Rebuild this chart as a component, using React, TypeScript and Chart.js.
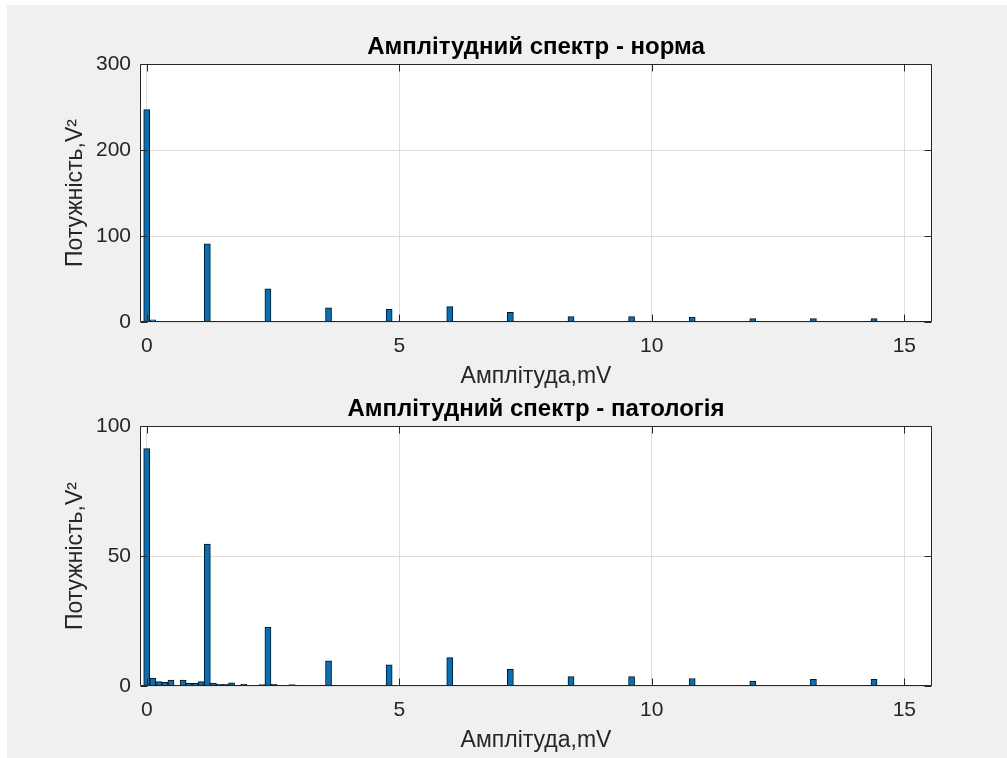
import React, { useEffect, useRef } from "react";
import { Chart, registerables } from "chart.js";

Chart.register(...registerables);

// ---- data ----
const normX = [0, 0.12, 1.2, 2.4, 3.6, 4.8, 6.0, 7.2, 8.4, 9.6, 10.8, 12.0, 13.2, 14.4];
const normY = [247, 2.5, 91, 38.7, 16.6, 14.7, 17.8, 11.3, 6.2, 6.2, 5.8, 4.0, 4.0, 4.0];

const patX = [
  0, 0.12, 0.24, 0.36, 0.48, 0.72, 0.84, 0.96, 1.08, 1.2, 1.32, 1.44, 1.56, 1.68, 1.92,
  2.28, 2.4, 2.52, 2.88, 3.6, 4.8, 6.0, 7.2, 8.4, 9.6, 10.8, 12.0, 13.2, 14.4,
];
const patY = [
  91.3, 3.0, 1.7, 1.4, 2.3, 2.3, 1.0, 1.0, 1.7, 54.6, 1.1, 0.6, 0.6, 1.2, 0.6,
  0.5, 22.7, 0.6, 0.5, 9.7, 8.1, 10.9, 6.4, 3.6, 3.6, 2.9, 1.9, 2.6, 2.6,
];

const titleNorm = "Амплітудний спектр - норма";
const titlePat = "Амплітудний спектр - патологія";
const xLabel = "Амплітуда,mV";
const yLabel = "Потужність,V²";

const xTicksStep = 5;
const normYMax = 300;
const normYStep = 100;
const patYMax = 100;
const patYStep = 50;

// ---- styles ----
const X_MIN = -0.133;
const X_MAX = 15.548;
const FONT = "'Liberation Sans', Arial, Helvetica, sans-serif";
const AXIS_COLOR = "#262626";
const GRID_COLOR = "#dedede";
const BAR_COLOR = "#0072BD";
const TICK_LEN = 7;
const TICK_SIZE = 21;
const LABEL_SIZE = 23;
const TITLE_SIZE = 24;

const boxPlugin = {
  id: "matlabBox",
  beforeDraw(chart: any) {
    const { ctx, chartArea: a } = chart;
    ctx.save();
    ctx.fillStyle = "#ffffff";
    ctx.fillRect(a.left, a.top, a.right - a.left, a.bottom - a.top);
    ctx.restore();
  },
  afterDatasetsDraw(chart: any) {
    const { ctx, chartArea: a, scales } = chart;
    const L = Math.round(a.left) + 0.5;
    const R = Math.round(a.right) - 0.5;
    const T = Math.round(a.top) + 0.5;
    const B = Math.round(a.bottom) - 0.5;
    ctx.save();
    ctx.strokeStyle = AXIS_COLOR;
    ctx.lineWidth = 1;
    ctx.beginPath();
    ctx.rect(L, T, R - L, B - T);
    for (const t of scales.x.ticks) {
      const px = Math.round(scales.x.getPixelForValue(t.value)) + 0.5;
      ctx.moveTo(px, B);
      ctx.lineTo(px, B - TICK_LEN);
      ctx.moveTo(px, T);
      ctx.lineTo(px, T + TICK_LEN);
    }
    for (const t of scales.y.ticks) {
      const py = Math.round(scales.y.getPixelForValue(t.value)) + 0.5;
      ctx.moveTo(L, py);
      ctx.lineTo(L + TICK_LEN, py);
      ctx.moveTo(R, py);
      ctx.lineTo(R - TICK_LEN, py);
    }
    ctx.stroke();
    ctx.restore();
  },
};

type Geom = {
  top: number;
  height: number;
  titlePadTop: number;
  titlePadBottom: number;
  xAxisHeight: number;
  xTitlePadBottom: number;
};

function Subplot(props: {
  xs: number[];
  ys: number[];
  title: string;
  yMax: number;
  yStep: number;
  g: Geom;
}) {
  const { xs, ys, title, yMax, yStep, g } = props;
  const ref = useRef<HTMLCanvasElement>(null);
  useEffect(() => {
    const tickFont = { family: FONT, size: TICK_SIZE };
    const labelFont = { family: FONT, size: LABEL_SIZE };
    const chart = new Chart(ref.current as HTMLCanvasElement, {
      type: "bar",
      data: {
        datasets: [
          {
            data: xs.map((x, i) => ({ x, y: ys[i] })),
            backgroundColor: BAR_COLOR,
            borderColor: "#111111",
            borderWidth: 1,
            borderSkipped: false,
            categoryPercentage: 1,
            barPercentage: 1,
          } as any,
        ],
      },
      options: {
        responsive: false,
        animation: false,
        devicePixelRatio: 1,
        layout: { padding: { left: 0, right: 75, top: 0, bottom: 0 } },
        plugins: {
          legend: { display: false },
          tooltip: { enabled: false },
          title: {
            display: true,
            fullSize: false,
            text: title,
            color: "#000000",
            font: { family: FONT, size: TITLE_SIZE, weight: "bold" },
            padding: { top: g.titlePadTop, bottom: g.titlePadBottom },
          },
        },
        scales: {
          x: {
            type: "linear",
            offset: false,
            min: X_MIN,
            max: X_MAX,
            ticks: {
              stepSize: xTicksStep,
              includeBounds: false,
              font: tickFont,
              color: AXIS_COLOR,
              padding: 11.5,
              maxRotation: 0,
            },
            grid: { color: GRID_COLOR, drawTicks: false, offset: false },
            border: { display: false },
            title: {
              display: true,
              text: xLabel,
              color: AXIS_COLOR,
              font: labelFont,
              padding: { top: 0, bottom: g.xTitlePadBottom },
            },
            afterFit: (s: any) => {
              s.height = g.xAxisHeight;
            },
          },
          y: {
            type: "linear",
            min: 0,
            max: yMax,
            ticks: {
              stepSize: yStep,
              includeBounds: false,
              font: tickFont,
              color: AXIS_COLOR,
              padding: 9,
            },
            grid: { color: GRID_COLOR, drawTicks: false },
            border: { display: false },
            title: {
              display: true,
              text: yLabel,
              color: AXIS_COLOR,
              font: labelFont,
              padding: { top: 62, bottom: 0 },
            },
            afterFit: (s: any) => {
              s.width = 140;
            },
          },
        },
      } as any,
      plugins: [boxPlugin],
    });
    return () => chart.destroy();
  }, []);
  return (
    <canvas
      ref={ref}
      width={1007}
      height={g.height}
      style={{ position: "absolute", left: 0, top: g.top, width: 1007, height: g.height }}
    />
  );
}

export default function App() {
  const g1: Geom = {
    top: 0,
    height: 392,
    titlePadTop: 32.6,
    titlePadBottom: 2.6,
    xAxisHeight: 70,
    xTitlePadBottom: 1.2,
  };
  const g2: Geom = {
    top: 392,
    height: 366,
    titlePadTop: 2.6,
    titlePadBottom: 2.6,
    xAxisHeight: 72,
    xTitlePadBottom: 3.7,
  };
  return (
    <div
      style={{
        position: "fixed",
        left: 0,
        top: 0,
        width: 1007,
        height: 758,
        background: "#ffffff",
        overflow: "hidden",
      }}
    >
      <div
        style={{
          position: "absolute",
          left: 7,
          top: 5,
          width: 1000,
          height: 753,
          background: "#f0f0f0",
        }}
      />
      <Subplot xs={normX} ys={normY} title={titleNorm} yMax={normYMax} yStep={normYStep} g={g1} />
      <Subplot xs={patX} ys={patY} title={titlePat} yMax={patYMax} yStep={patYStep} g={g2} />
    </div>
  );
}
